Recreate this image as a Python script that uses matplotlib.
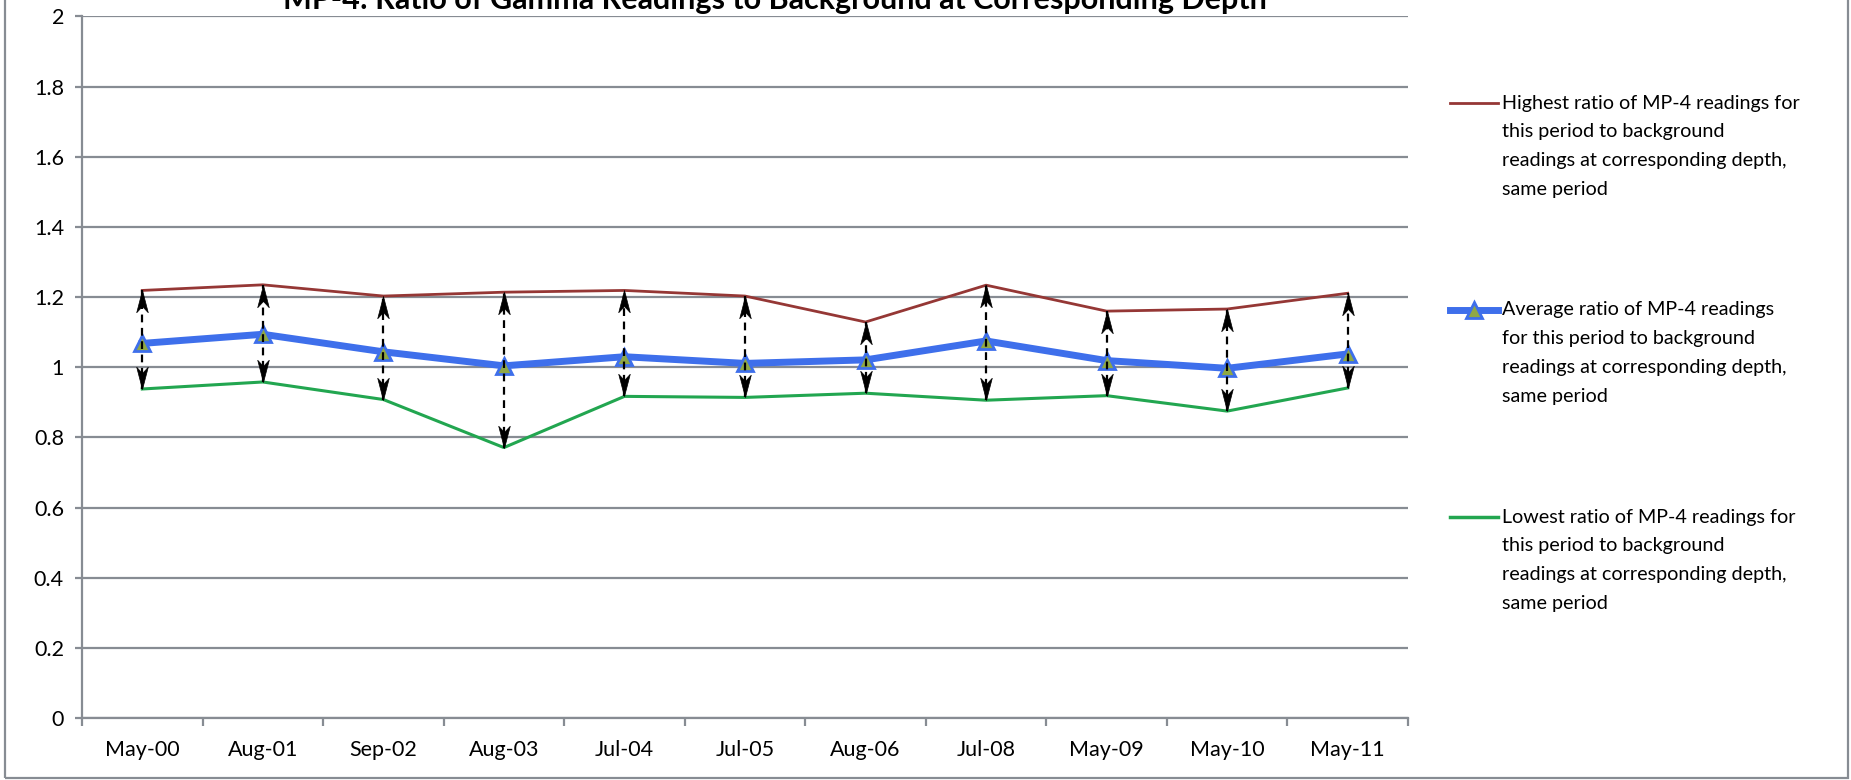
import numpy as np
import matplotlib
matplotlib.use("Agg")
import matplotlib.pyplot as plt
from matplotlib.lines import Line2D
from matplotlib.patches import Rectangle
from matplotlib.path import Path

plt.rcParams['font.family'] = ['Lato', 'DejaVu Sans']

# data
dates = ["May-00", "Aug-01", "Sep-02", "Aug-03", "Jul-04", "Jul-05",
         "Aug-06", "Jul-08", "May-09", "May-10", "May-11"]
highest = [1.219, 1.235, 1.203, 1.214, 1.219, 1.203, 1.129, 1.234, 1.160, 1.166, 1.211]
average = [1.068, 1.094, 1.044, 1.004, 1.030, 1.011, 1.021, 1.075, 1.019, 0.997, 1.038]
lowest = [0.938, 0.958, 0.908, 0.771, 0.917, 0.914, 0.926, 0.906, 0.919, 0.875, 0.941]

y_ticks = [0, 0.2, 0.4, 0.6, 0.8, 1, 1.2, 1.4, 1.6, 1.8, 2]

title = "MP-4: Ratio of Gamma Readings to Background at Corresponding Depth"
legend_labels = [
    ["Highest ratio of MP-4 readings for", "this period to background",
     "readings at corresponding depth,", "same period"],
    ["Average ratio of MP-4 readings", "for this period to background",
     "readings at corresponding depth,", "same period"],
    ["Lowest ratio of MP-4 readings for", "this period to background",
     "readings at corresponding depth,", "same period"],
]

red = '#953735'
blue = '#3E6FEB'
olive = '#8FA845'
green = '#22A650'
grey = '#878C93'

# stealth arrow heads, tip at the origin so the marker sits on the value
up_head = Path([(0, 0), (-0.26, -1), (0, -0.72), (0.26, -1), (0, 0)],
               [Path.MOVETO, Path.LINETO, Path.LINETO, Path.LINETO, Path.CLOSEPOLY])
down_head = Path([(0, 0), (-0.26, 1), (0, 0.72), (0.26, 1), (0, 0)],
                 [Path.MOVETO, Path.LINETO, Path.LINETO, Path.LINETO, Path.CLOSEPOLY])

W, H = 1851, 780
fig = plt.figure(figsize=(W / 100, H / 100), dpi=100)
ax = fig.add_axes([82 / W, 1 - 718 / H, (1408 - 82) / W, (718 - 16.5) / H])

x = np.arange(len(dates))
ax.plot(x, highest, color=red, lw=2, zorder=3)
ax.plot(x, lowest, color=green, lw=2.2, zorder=3)
ax.plot(x, average, color=blue, lw=5, marker='^', ms=11, mfc=olive,
        mec=blue, mew=2, zorder=4)

# dashed range arrows low <-> high
ax.vlines(x, lowest, highest, colors='black', linestyles=(0, (3.5, 2.5)),
          lw=1.6, zorder=5)
ax.plot(x, highest, ls='none', marker=up_head, ms=32, color='black',
        mec='black', mew=0.5, zorder=6)
ax.plot(x, lowest, ls='none', marker=down_head, ms=32, color='black',
        mec='black', mew=0.5, zorder=6)

ax.set_xlim(-0.5, len(dates) - 0.5)
ax.set_ylim(0, 2)
ax.set_yticks(y_ticks)
ax.set_yticklabels([f"{v:g}" for v in y_ticks])
ax.set_xticks(x)
ax.set_xticklabels(dates)
ax.set_xticks(np.arange(-0.5, len(dates), 1), minor=True)

ax.grid(axis='y', color=grey, lw=1.6)
ax.set_axisbelow(True)
for s in ['top', 'right']:
    ax.spines[s].set_visible(False)
for s in ['left', 'bottom']:
    ax.spines[s].set_color(grey)
    ax.spines[s].set_linewidth(1.6)

ax.tick_params(axis='x', which='major', length=0, pad=16, labelsize=15.5)
ax.tick_params(axis='x', which='minor', length=6, width=1.6, color=grey)
ax.tick_params(axis='y', length=5, width=1.6, color=grey, pad=8, labelsize=15.5)

fig.text(775 / W, 1 - 9 / H, title, ha='center', va='baseline',
         fontsize=22, fontweight='bold')

# legend drawn by hand so the handle sits on the first line
styles = [dict(color=red, lw=2),
          dict(color=blue, lw=5, marker='^', ms=11, mfc=olive, mec=blue,
               mew=2, markevery=[1]),
          dict(color=green, lw=2.5)]
for k, lines in enumerate(legend_labels):
    y0 = 103 + k * 207
    fig.add_artist(Line2D([1450 / W, 1474 / W, 1498 / W], [1 - y0 / H] * 3,
                          transform=fig.transFigure, **styles[k]))
    for j, line in enumerate(lines):
        fig.text(1502 / W, 1 - (y0 + j * 28.7) / H, line, va='center',
                 fontsize=14.2)

fig.add_artist(Rectangle((5 / W, 2 / H), (1848 - 5) / W, 1.2,
                         transform=fig.transFigure, fill=False,
                         edgecolor=grey, lw=1.6))

fig.savefig('out.png', dpi=100)
